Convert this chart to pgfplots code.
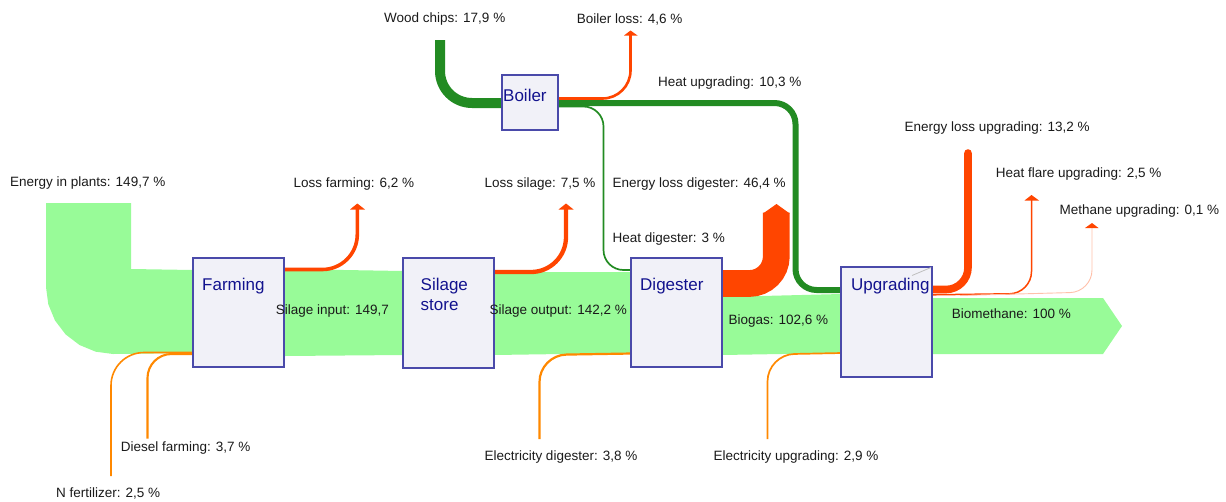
\documentclass[border=0pt]{standalone}
\usepackage{pgfplots}
\pgfplotsset{compat=1.18}
\usepackage{fontspec}
\setmainfont{Liberation Sans}
\definecolor{flowgreen}{HTML}{98FB98}
\definecolor{lossred}{HTML}{FF4500}
\definecolor{heatgreen}{HTML}{228B22}
\definecolor{inorange}{HTML}{FF8800}
\definecolor{methpink}{HTML}{FFC0AA}
\definecolor{boxfill}{HTML}{F1F1F8}
\definecolor{boxline}{HTML}{4A4AAA}
\definecolor{boxtext}{HTML}{12128E}
\definecolor{txt}{HTML}{1A1A1A}
\newcommand\lbl{\fontsize{13.5}{16}\selectfont\color{txt}}
\newcommand\bxl{\fontsize{17}{19.5}\selectfont\color{boxtext}}
\begin{document}
\begin{tikzpicture}
\begin{axis}[
  scale only axis, width=1226pt, height=501pt,
  xmin=0, xmax=1226, ymin=0, ymax=501, y dir=reverse,
  hide axis, clip=false]
\addplot[draw=none] coordinates {(0,0) (1226,501)};
% main energy band
\addplot[fill=flowgreen, draw=none] coordinates {
 (46,203) (131,203) (131,269) (193,270) (285,269) (403,271) (494,272)
 (631,272) (722,297) (841,294) (932,298) (1103,298) (1122,326) (1103,354)
 (932,354) (841,353) (722,355) (631,353) (494,355) (403,355) (285,356)
 (193,353) (113,354) (95.7,351.7) (79.5,345.0) (65.6,334.4) (55.0,320.5)
 (48.3,304.3) (46,287) (46,203)} -- cycle;
% losses
\addplot[lossred, line width=3.6pt, rounded corners=35pt] coordinates {(284,269.5) (357.3,269.5) (357.3,208.5)};
\addplot[fill=lossred, draw=none] coordinates {(350,209.5) (357.3,203.5) (365,209.5)} -- cycle;
\addplot[lossred, line width=4.3pt, rounded corners=35pt] coordinates {(494,272) (566,272) (566,208.5)};
\addplot[fill=lossred, draw=none] coordinates {(558.5,209.5) (566,203.5) (573.5,209.5)} -- cycle;
\addplot[lossred, line width=2.6pt, rounded corners=28pt] coordinates {(558,98.5) (630.5,98.5) (630.5,35)};
\addplot[fill=lossred, draw=none] coordinates {(624,35.5) (630.5,30.5) (637.5,35.5)} -- cycle;
\addplot[lossred, line width=26.7pt, rounded corners=27pt] coordinates {(722,283.5) (776.3,283.5) (776.3,212.5)};
\addplot[fill=lossred, draw=none] coordinates {(763,213.5) (776.5,204) (789.7,213.5)} -- cycle;
\addplot[lossred, line width=7.6pt, line cap=round, rounded corners=22pt] coordinates {(930,289.5) (968,289.5) (968,153)};
\addplot[lossred, line width=1.5pt, rounded corners=22pt] coordinates {(932,294.8) (1031.5,293.5) (1031.5,199.5)};
\addplot[fill=lossred, draw=none] coordinates {(1024.5,200.5) (1031.5,195) (1039,200.5)} -- cycle;
\addplot[methpink, line width=0.9pt, rounded corners=22pt] coordinates {(960,295.5) (1092,292) (1092,227.5)};
\addplot[fill=lossred, draw=none] coordinates {(1085,228) (1092,223) (1098.5,228)} -- cycle;
% heat flows
\addplot[heatgreen, line width=10pt, rounded corners=32pt] coordinates {(440,40) (440,103) (503,103)};
\addplot[heatgreen, line width=6pt, rounded corners=21pt] coordinates {(557,103) (795.5,103) (795.5,290) (842,290)};
\addplot[heatgreen, line width=1.7pt, rounded corners=20pt] coordinates {(557,106.5) (603.5,106.5) (603.5,270) (632,270)};
% inputs
\addplot[inorange, line width=1.6pt, rounded corners=33pt] coordinates {(194,352.5) (111,352.5) (111,476)};
\addplot[inorange, line width=2.1pt, rounded corners=24pt] coordinates {(194,354) (147.5,354) (147.5,438.5)};
\addplot[inorange, line width=2.2pt, rounded corners=27pt] coordinates {(632,353.5) (539.5,355) (539.5,439)};
\addplot[inorange, line width=1.7pt, rounded corners=27pt] coordinates {(842,353) (767.5,354.5) (767.5,439)};
% boxes
\addplot[fill=boxfill, draw=boxline, line width=1.4pt] coordinates {(193,258) (284,258) (284,367) (193,367)} -- cycle;
\addplot[fill=boxfill, draw=boxline, line width=1.4pt] coordinates {(403,258) (494,258) (494,368) (403,368)} -- cycle;
\addplot[fill=boxfill, draw=boxline, line width=1.4pt] coordinates {(631,258) (722,258) (722,367) (631,367)} -- cycle;
\addplot[fill=boxfill, draw=boxline, line width=1.4pt] coordinates {(841,267) (932,267) (932,377) (841,377)} -- cycle;
\addplot[fill=boxfill, draw=boxline, line width=1.4pt] coordinates {(502,75) (558,75) (558,130) (502,130)} -- cycle;
\addplot[gray!50, line width=0.8pt] coordinates {(912,275.5) (931,267.5)};
% box labels
\node[anchor=west, font=\bxl, inner sep=0pt] at (axis cs:202,286) {Farming};
\node[anchor=west, font=\bxl, inner sep=0pt] at (axis cs:420.5,285.7) {Silage};
\node[anchor=west, font=\bxl, inner sep=0pt] at (axis cs:420.5,305) {store};
\node[anchor=west, font=\bxl, inner sep=0pt] at (axis cs:640,285.7) {Digester};
\node[anchor=west, font=\bxl, inner sep=0pt] at (axis cs:851,285.7) {Upgrading};
\node[anchor=west, font=\bxl, inner sep=0pt] at (axis cs:503,95) {Boiler};
% flow labels
\node[anchor=west, font=\lbl, inner sep=0pt] at (axis cs:10,183.5) {Energy in plants: 149,7 \%};
\node[anchor=west, font=\lbl, inner sep=0pt] at (axis cs:293.3,184) {Loss farming: 6,2 \%};
\node[anchor=west, font=\lbl, inner sep=0pt] at (axis cs:484.3,184) {Loss silage: 7,5 \%};
\node[anchor=west, font=\lbl, inner sep=0pt] at (axis cs:612.3,184) {Energy loss digester: 46,4 \%};
\node[anchor=west, font=\lbl, inner sep=0pt] at (axis cs:612.3,239) {Heat digester: 3 \%};
\node[anchor=west, font=\lbl, inner sep=0pt] at (axis cs:384,19) {Wood chips: 17,9 \%};
\node[anchor=west, font=\lbl, inner sep=0pt] at (axis cs:576.7,19) {Boiler loss: 4,6 \%};
\node[anchor=west, font=\lbl, inner sep=0pt] at (axis cs:658,83) {Heat upgrading: 10,3 \%};
\node[anchor=west, font=\lbl, inner sep=0pt] at (axis cs:904.3,128.5) {Energy loss upgrading: 13,2 \%};
\node[anchor=west, font=\lbl, inner sep=0pt] at (axis cs:995.7,174.3) {Heat flare upgrading: 2,5 \%};
\node[anchor=west, font=\lbl, inner sep=0pt] at (axis cs:1059.3,211) {Methane upgrading: 0,1 \%};
\node[anchor=west, font=\lbl, inner sep=0pt] at (axis cs:275.7,311) {Silage input: 149,7};
\node[anchor=west, font=\lbl, inner sep=0pt] at (axis cs:489.5,311) {Silage output: 142,2 \%};
\node[anchor=west, font=\lbl, inner sep=0pt] at (axis cs:728.3,321) {Biogas: 102,6 \%};
\node[anchor=west, font=\lbl, inner sep=0pt] at (axis cs:951.7,313.3) {Biomethane: 100 \%};
\node[anchor=west, font=\lbl, inner sep=0pt] at (axis cs:120.7,448.3) {Diesel farming: 3,7 \%};
\node[anchor=west, font=\lbl, inner sep=0pt] at (axis cs:56,493) {N fertilizer: 2,5 \%};
\node[anchor=west, font=\lbl, inner sep=0pt] at (axis cs:484.3,457.3) {Electricity digester: 3,8 \%};
\node[anchor=west, font=\lbl, inner sep=0pt] at (axis cs:713.3,457.3) {Electricity upgrading: 2,9 \%};
\end{axis}
\end{tikzpicture}
\end{document}
